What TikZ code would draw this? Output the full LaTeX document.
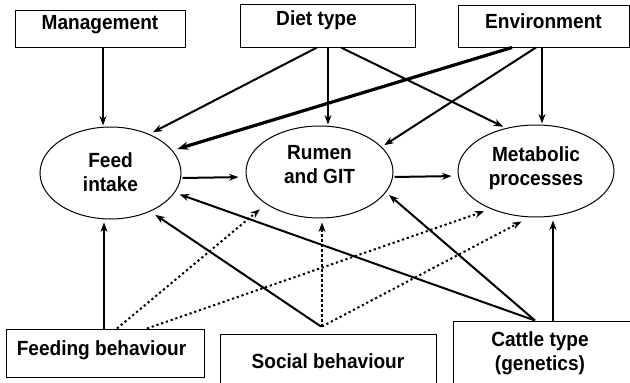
\documentclass[tikz,border=0pt]{standalone}
\usepackage{fontspec}
\setmainfont{Liberation Sans}[FakeStretch=0.93]
\usetikzlibrary{shapes.geometric,arrows.meta,calc}
\begin{document}
\begin{tikzpicture}[x=1pt,y=-1pt,
  every node/.style={font=\fontsize{20.5}{24}\selectfont\bfseries},
  box/.style={draw, line width=1pt, rectangle, inner sep=0pt},
  oval/.style={draw, line width=1pt, ellipse, inner sep=0pt},
  lab/.style={align=center, inner sep=0pt},
  arr/.style={line width=2pt, -{Stealth[length=9.5pt,width=7pt]}},
  thickarr/.style={line width=3.2pt, -{Stealth[length=11pt,width=8pt]}},
  darr/.style={arr, dash pattern=on 2.2pt off 2.8pt},
  ]
\useasboundingbox (0,0) rectangle (630,383);
\clip (0,0) rectangle (630,383);

% top boxes
\node[box, minimum width=170pt, minimum height=37pt,
      label={[lab, yshift=4pt]center:Management}] (mgmt) at (100,28.5) {};
\node[box, minimum width=175pt, minimum height=43pt,
      label={[lab, xshift=-11pt, yshift=5pt]center:Diet type}] (diet) at (327.5,25.5) {};
\node[box, minimum width=171pt, minimum height=42pt,
      label={[lab, yshift=4.5pt]center:Environment}] (env) at (543.5,26) {};

% ellipses
\node[oval, minimum width=141pt, minimum height=92pt,
      label={[lab, yshift=1pt]center:Feed\\intake}] (feed) at (110.5,173) {};
\node[oval, minimum width=147pt, minimum height=92pt,
      label={[lab, yshift=7pt]center:Rumen\\and GIT}] (rumen) at (319.5,172) {};
\node[oval, minimum width=156pt, minimum height=92pt,
      label={[lab, yshift=3pt]center:Metabolic\\processes}] (met) at (536,171) {};

% bottom boxes
\node[box, minimum width=198pt, minimum height=48pt,
      label={[lab, xshift=-4pt, yshift=3pt]center:Feeding behaviour}] (fb) at (105.5,353) {};
\node[box, minimum width=216pt, minimum height=58pt,
      label={[lab, yshift=2pt]center:Social behaviour}] (sb) at (328,363) {};
\node[box, minimum width=192pt, minimum height=74pt,
      label={[lab, xshift=-9pt, yshift=4.5pt]center:Cattle type\\(genetics)}] (ct) at (549,358) {};

\coordinate (sp) at ([xshift=-7pt,yshift=7pt]sb.north);
\coordinate (cp) at ([xshift=-14pt]ct.north);

% from top boxes
\draw[arr, shorten >=1pt] ([xshift=3pt]mgmt.south) -- ([xshift=3pt]mgmt.south |- feed.north);
\draw[arr, shorten >=4pt] ([xshift=-10.5pt]diet.south) -- (feed.45);
\draw[arr, shorten >=1pt] ([xshift=0.5pt]diet.south) -- ([xshift=0.5pt]diet.south |- rumen.north);
\draw[arr, shorten >=3pt] ([xshift=13.5pt]diet.south) -- (met.125);
\draw[thickarr, shorten >=5pt] ([xshift=-31.5pt]env.south) -- (feed.20);
\draw[arr, shorten >=3pt] ([xshift=-7.5pt]env.south) -- (rumen.22);
\draw[arr, shorten >=1pt] ([xshift=-1.5pt]env.south) -- ([xshift=-1.5pt]env.south |- met.north);

% between ellipses
\draw[arr, shorten <=1pt, shorten >=7pt] ([yshift=-5pt]feed.east) -- ([yshift=-5pt]rumen.west);
\draw[arr, shorten <=1pt, shorten >=6pt] ([yshift=-5pt]rumen.east) -- ([yshift=-5pt]met.west);

% from feeding behaviour
\draw[arr, shorten >=3pt] ([xshift=-1.5pt]fb.north) -- ([xshift=-1.5pt]fb.north |- feed.south);
\draw[darr, shorten >=8pt] ([xshift=11.5pt]fb.north) -- (rumen.211);
\draw[darr, shorten >=7pt] ([xshift=41.5pt]fb.north) -- (met.220);

% from social behaviour
\draw[arr, shorten >=6pt] (sp) -- (feed.-44);
\draw[darr, shorten >=4pt] ([xshift=1pt]sp) -- ([xshift=1pt]sp |- rumen.south);
\draw[darr, shorten >=9pt] ([xshift=1pt]sp) -- (met.262);

% from cattle type
\draw[arr, shorten >=5pt] (cp) -- (feed.-17);
\draw[arr, shorten >=4pt] (cp) -- (rumen.-17.6);
\draw[arr, shorten >=3pt] ([xshift=4pt]ct.north) -- ([xshift=4pt]ct.north |- met.south);
\end{tikzpicture}
\end{document}
